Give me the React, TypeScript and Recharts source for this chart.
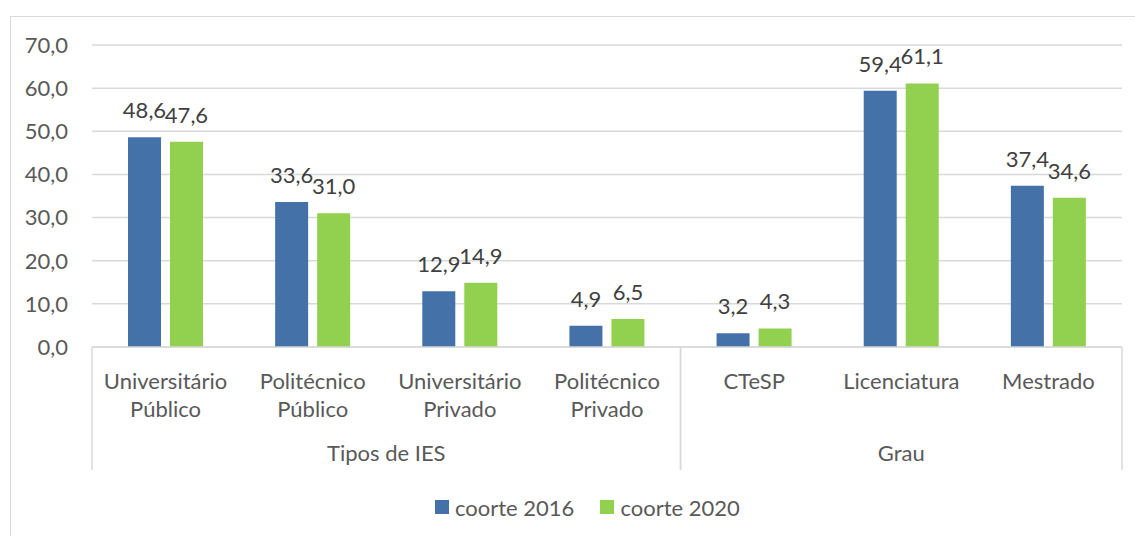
import React from 'react';
import { BarChart, Bar, XAxis, YAxis, CartesianGrid, LabelList, Legend } from 'recharts';

const categories = [
  'Universitário\nPúblico',
  'Politécnico\nPúblico',
  'Universitário\nPrivado',
  'Politécnico\nPrivado',
  'CTeSP',
  'Licenciatura',
  'Mestrado',
];
const groupOf = ['Tipos de IES', 'Tipos de IES', 'Tipos de IES', 'Tipos de IES', 'Grau', 'Grau', 'Grau'];
const coorte2016 = [48.6, 33.6, 12.9, 4.9, 3.2, 59.4, 37.4];
const coorte2020 = [47.6, 31.0, 14.9, 6.5, 4.3, 61.1, 34.6];
const yTicks = [0, 10, 20, 30, 40, 50, 60, 70];
const seriesNames = ['coorte 2016', 'coorte 2020'];

const data = categories.map((c, i) => ({
  name: c,
  group: groupOf[i],
  c2016: coorte2016[i],
  c2020: coorte2020[i],
}));

const W = 1135;
const H = 536;
const MARGIN = { top: 45, right: 13, bottom: 0, left: 32 };
const Y_W = 60;
const PLOT_W = W - MARGIN.left - Y_W - MARGIN.right;
const BAND = PLOT_W / categories.length;
const FONT = 'Lato, "Open Sans", sans-serif';
const FS = 22;
const TEXT = '#595959';
const LINE = '#d9d9d9';
const BLUE = '#4472a8';
const GREEN = '#92d050';

const fmt = (v: number) => v.toFixed(1).replace('.', ',');

const XTick = (props: any) => {
  const { x, y, payload, index } = props;
  const lines = String(payload.value).split('\n');
  const items: any[] = [];
  lines.forEach((l, k) => {
    items.push(
      <text key={'t' + k} x={x} y={y + 33 + k * 28} textAnchor="middle" dominantBaseline="central"
        fill={TEXT} fontSize={FS} fontFamily={FONT}>{l}</text>
    );
  });
  const g = groupOf[index];
  const prev = index > 0 ? groupOf[index - 1] : null;
  const next = index < groupOf.length - 1 ? groupOf[index + 1] : null;
  if (prev !== g) {
    items.push(<line key="ls" x1={x - BAND / 2} x2={x - BAND / 2} y1={y} y2={y + 123} stroke={LINE} strokeWidth={1.5} />);
  }
  if (next !== g) {
    items.push(<line key="le" x1={x + BAND / 2} x2={x + BAND / 2} y1={y} y2={y + 123} stroke={LINE} strokeWidth={1.5} />);
  }
  const members = groupOf.map((gg, i) => (gg === g ? i : -1)).filter((i) => i >= 0);
  const first = members[0];
  const last = members[members.length - 1];
  const centerIdx = (first + last) / 2;
  if (Math.floor(centerIdx) === index) {
    const cx = x + (centerIdx - index) * BAND;
    items.push(
      <text key="g" x={cx} y={y + 105} textAnchor="middle" dominantBaseline="central"
        fill={TEXT} fontSize={FS} fontFamily={FONT}>{g}</text>
    );
  }
  return <g>{items}</g>;
};

const LegendContent = () => (
  <div style={{ height: 66, boxSizing: 'border-box', paddingTop: 8, display: 'flex', alignItems: 'center', paddingLeft: 435, fontFamily: FONT, fontSize: FS, color: TEXT }}>
    {seriesNames.map((n, i) => (
      <div key={n} style={{ display: 'flex', alignItems: 'center', marginRight: 26 }}>
        <span style={{ width: 14, height: 14, background: i === 0 ? BLUE : GREEN, display: 'inline-block', marginRight: 6 }} />
        <span>{n}</span>
      </div>
    ))}
  </div>
);

export default function App() {
  return (
    <div style={{ position: 'absolute', left: 0, top: 0, width: W, height: H, overflow: 'hidden', background: '#fff' }}>
      <div style={{ position: 'absolute', left: 10, top: 16, width: 1200, height: 700, border: `1px solid ${LINE}` }} />
      <div style={{ position: 'absolute', left: 0, top: 0 }}>
        <BarChart width={W} height={H} data={data} margin={MARGIN} barGap={9} barSize={33}>
          <CartesianGrid vertical={false} stroke={LINE} strokeWidth={1.5} />
          <XAxis dataKey="name" interval={0} tickLine={false} tickSize={0} tickMargin={0} height={123}
            axisLine={{ stroke: LINE, strokeWidth: 1.5 }} tick={<XTick />} />
          <YAxis domain={[0, 70]} ticks={yTicks} width={Y_W} axisLine={false} tickLine={false} tickMargin={18}
            tickFormatter={fmt} tick={{ fill: TEXT, fontSize: FS, fontFamily: FONT }} />
          <Legend verticalAlign="bottom" wrapperStyle={{ left: 0, width: W }} content={<LegendContent />} />
          <Bar dataKey="c2016" name={seriesNames[0]} fill={BLUE} isAnimationActive={false}>
            <LabelList dataKey="c2016" position="top" offset={19} formatter={fmt} fill="#404040" fontSize={FS} fontFamily={FONT} />
          </Bar>
          <Bar dataKey="c2020" name={seriesNames[1]} fill={GREEN} isAnimationActive={false}>
            <LabelList dataKey="c2020" position="top" offset={19} formatter={fmt} fill="#404040" fontSize={FS} fontFamily={FONT} />
          </Bar>
        </BarChart>
      </div>
    </div>
  );
}
